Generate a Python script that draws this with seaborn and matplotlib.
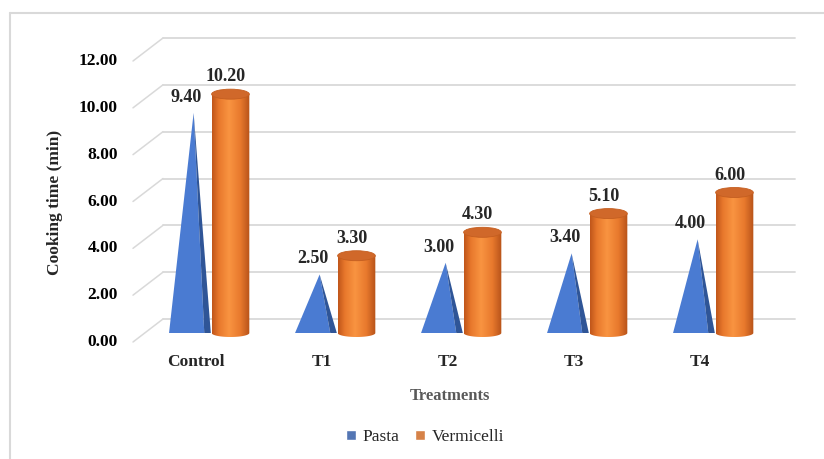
import numpy as np
import pandas as pd
import matplotlib.pyplot as plt
import seaborn as sns
from matplotlib.patches import Polygon, Ellipse, PathPatch
from matplotlib.path import Path
from matplotlib.lines import Line2D
from matplotlib.colors import LinearSegmentedColormap

# Data
treatments = ["Control", "T1", "T2", "T3", "T4"]
pasta = [9.40, 2.50, 3.00, 3.40, 4.00]
vermicelli = [10.20, 3.30, 4.30, 5.10, 6.00]
y_ticks = [0, 2, 4, 6, 8, 10, 12]

df = pd.DataFrame({
    "Treatment": treatments * 2,
    "Product": ["Pasta"] * len(pasta) + ["Vermicelli"] * len(vermicelli),
    "Time": pasta + vermicelli,
})

sns.set_style("white")
plt.rcParams["font.family"] = ["Liberation Serif", "DejaVu Serif"]

fig = plt.figure(figsize=(8.24, 4.59), dpi=100)
# axes = the plane where the 3D shapes stand
ax = fig.add_axes([147 / 824, 1 - 333 / 459, 630 / 824, 281 / 459])

palette = {"Pasta": "#4472C4", "Vermicelli": "#ED7D31"}
sns.barplot(data=df, x="Treatment", y="Time", hue="Product", palette=palette,
            width=0.65, ax=ax, errorbar=None)
ax.set_xlim(-0.5, 4.5)
ax.set_ylim(0, 12)
for s in ax.spines.values():
    s.set_visible(False)
ax.set_xticks([])
ax.set_yticks([])

# pixels per data unit
p0 = ax.transData.transform((0, 0))
p1 = ax.transData.transform((1, 1))
ux, uy = p1[0] - p0[0], p1[1] - p0[1]

grid_c = "#D9D9D9"
# back wall grid + slanted floor lines, tick labels on the front plane
for v in y_ticks:
    ax.plot([-0.5 + 16 / ux, 4.5 + 18 / ux], [v + 14 / uy, v + 14 / uy],
            color=grid_c, lw=1.3, zorder=0.5, clip_on=False)
    ax.plot([-0.5 - 14 / ux, -0.5 + 16 / ux], [v - 9 / uy, v + 14 / uy],
            color=grid_c, lw=1.1, zorder=0.5, clip_on=False)
    ax.text(-0.5 - 29 / ux, v - 9 / uy, f"{v:.2f}", ha="right", va="center",
            fontsize=12.5, fontweight="bold", color="black")

for i, t in enumerate(treatments):
    ax.text(i - 14 / ux, -29 / uy, t, ha="center", va="center",
            fontsize=12.5, fontweight="bold")

# replace flat bars with cones and cylinders
bars = list(ax.patches)
n = len(treatments)
pasta_bars = [b for b in bars if b.get_height() > 0][:n]
verm_bars = [b for b in bars if b.get_height() > 0][n:2 * n]
for b in bars:
    b.set_visible(False)

orange_cmap = LinearSegmentedColormap.from_list(
    "cyl", [(0, "#C0561A"), (0.18, "#E8782C"), (0.45, "#F99441"),
            (0.75, "#E8792D"), (1, "#B65219")])
grad = np.linspace(0, 1, 200).reshape(1, -1)
e = 5 / uy  # ellipse half height

for b in pasta_bars:
    x0, w, h = b.get_x(), b.get_width(), b.get_height()
    tip = x0 + 0.6 * w
    ax.add_patch(Polygon([(x0, 0), (tip, h), (x0 + 0.86 * w, 0)],
                         closed=True, fc="#4A7BD2", ec="none", zorder=2,
                         clip_on=False))
    ax.add_patch(Polygon([(tip, h), (x0 + 0.86 * w, 0), (x0 + 1.02 * w, 0)],
                         closed=True, fc="#2F5597", ec="none", zorder=2,
                         clip_on=False))
    ax.annotate(f"{h:.2f}", (x0 + 0.5 * w, h), xytext=(-3, 7),
                textcoords="offset pixels", ha="center", va="bottom",
                fontsize=13, fontweight="bold")

for b in verm_bars:
    x0, w, h = b.get_x(), b.get_width(), b.get_height()
    x0 += 0.04 * w
    w *= 0.92
    cx = x0 + w / 2
    # body outline with rounded bottom
    theta = np.linspace(np.pi, 2 * np.pi, 40)
    bottom = np.column_stack([cx + w / 2 * np.cos(theta), e * 0.8 * np.sin(theta)])
    verts = np.vstack([[(x0, h)], bottom, [(x0 + w, h)], [(x0, h)]])
    codes = [Path.MOVETO] + [Path.LINETO] * (len(verts) - 2) + [Path.CLOSEPOLY]
    body = PathPatch(Path(verts, codes), fc="none", ec="none", clip_on=False)
    ax.add_patch(body)
    im = ax.imshow(grad, extent=[x0, x0 + w, -e, h], aspect="auto",
                   cmap=orange_cmap, zorder=3, interpolation="bilinear")
    im.set_clip_path(body)
    im.set_clip_box(fig.bbox)
    ax.add_patch(Ellipse((cx, h), w, 2 * e, fc="#D0682A", ec="#C45E20",
                         lw=0.6, zorder=3.5, clip_on=False))
    ax.annotate(f"{h:.2f}", (cx, h), xytext=(-5, 9), textcoords="offset pixels",
                ha="center", va="bottom", fontsize=13, fontweight="bold")

ax.set_xlim(-0.5, 4.5)
ax.set_ylim(0, 12)

ax.set_ylabel("Cooking time (min)", fontsize=12.5, fontweight="bold")
ax.yaxis.set_label_coords((63 - 147) / 630, (333 - 202) / 281)
ax.set_xlabel("Treatments", fontsize=12, fontweight="bold", color="#595959")
ax.xaxis.set_label_coords((450 - 147) / 630, (333 - 388) / 281)

sns.move_legend(ax, "center", bbox_to_anchor=(425 / 824, 1 - 437 / 459),
                bbox_transform=fig.transFigure, ncol=2, frameon=False, title=None,
                fontsize=12.5, handlelength=0.55, handleheight=0.55,
                handletextpad=0.4, columnspacing=0.9)

# chart frame (only left and top edges visible)
fig.add_artist(Line2D([10 / 824, 10 / 824], [0, 1 - 13 / 459],
                      transform=fig.transFigure, color=grid_c, lw=1.5))
fig.add_artist(Line2D([10 / 824, 1], [1 - 13 / 459, 1 - 13 / 459],
                      transform=fig.transFigure, color=grid_c, lw=1.5))

fig.savefig("out.png", dpi=100)
